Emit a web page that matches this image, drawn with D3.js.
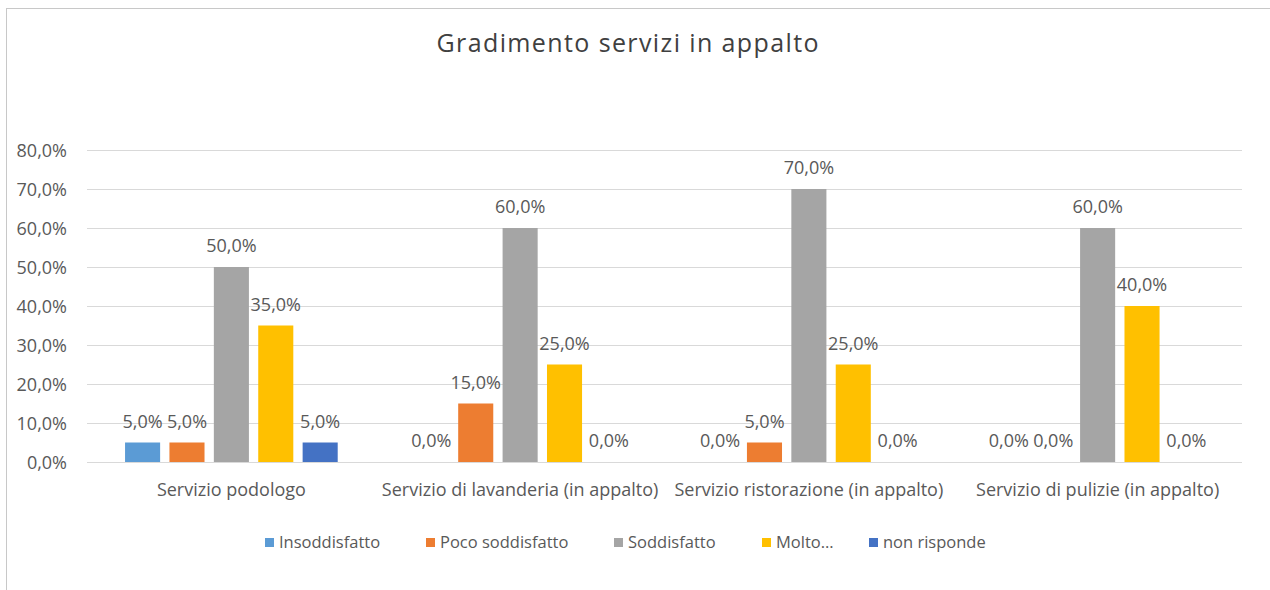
<!DOCTYPE html>
<html>
<head>
<meta charset="utf-8">
<script src="https://cdn.jsdelivr.net/npm/d3@7"></script>
<style>
  html, body { margin: 0; padding: 0; background: #fff; }
  svg { display: block; font-family: "Open Sans", sans-serif; }
</style>
</head>
<body>
<svg id="chart" width="1270" height="590"></svg>
<script>
const title = "Gradimento servizi in appalto";
const categories = ["Servizio podologo", "Servizio di lavanderia (in appalto)", "Servizio ristorazione (in appalto)", "Servizio di pulizie (in appalto)"];
const seriesNames = ["Insoddisfatto", "Poco soddisfatto", "Soddisfatto", "Molto soddisfatto", "non risponde"];
const legendLabels = ["Insoddisfatto", "Poco soddisfatto", "Soddisfatto", "Molto…", "non risponde"];
const insoddisfatto = [0.05, 0.00, 0.00, 0.00];
const pocoSoddisfatto = [0.05, 0.15, 0.05, 0.00];
const soddisfatto = [0.50, 0.60, 0.70, 0.60];
const moltoSoddisfatto = [0.35, 0.25, 0.25, 0.40];
const nonRisponde = [0.05, 0.00, 0.00, 0.00];
const yTicks = [0, 0.1, 0.2, 0.3, 0.4, 0.5, 0.6, 0.7, 0.8];

const seriesValues = [insoddisfatto, pocoSoddisfatto, soddisfatto, moltoSoddisfatto, nonRisponde];
const colors = ["#5B9BD5", "#ED7D31", "#A5A5A5", "#FFC000", "#4472C4"];
const textColor = "#595959";
const fmt = v => (v * 100).toFixed(1).replace(".", ",") + "%";

const svg = d3.select("#chart");

// chart border (top & left visible)
svg.append("rect").attr("x", 6.5).attr("y", 8.5).attr("width", 1300).attr("height", 600)
  .attr("fill", "none").attr("stroke", "#C8C8C8").attr("stroke-width", 1);

const plot = { left: 87, right: 1242, top: 150, bottom: 462 };

const x0 = d3.scaleBand().domain(categories).range([plot.left, plot.right]).padding(0);
const x1 = d3.scaleBand().domain(seriesNames).range([0, x0.bandwidth()]).paddingInner(0.21).paddingOuter(0.857);
const y = d3.scaleLinear().domain([0, 0.8]).range([plot.bottom, plot.top]);

// title
svg.append("text").attr("x", 627.5).attr("y", 52).attr("text-anchor", "middle")
  .attr("font-size", 25).attr("fill", "#404040")
  .attr("textLength", 382).attr("lengthAdjust", "spacing")
  .text(title);

// grid + y labels
const yAxis = d3.axisLeft(y).tickValues(yTicks).tickFormat(fmt)
  .tickSize(-(plot.right - plot.left)).tickPadding(20);
const gy = svg.append("g").attr("transform", `translate(${plot.left},0)`).call(yAxis);
gy.select(".domain").remove();
gy.selectAll(".tick line").attr("stroke", "#D9D9D9").attr("stroke-width", 1);
gy.selectAll(".tick text").attr("font-size", 18).attr("fill", textColor)
  .attr("font-family", "Open Sans, sans-serif").attr("x", -20).attr("dy", "0.35em");

// bars
const data = [];
categories.forEach((c, ci) => {
  seriesNames.forEach((s, si) => {
    data.push({ cat: c, ser: s, si, v: seriesValues[si][ci] });
  });
});

const bars = svg.append("g");
bars.selectAll("rect").data(data).join("rect")
  .attr("x", d => x0(d.cat) + x1(d.ser))
  .attr("y", d => y(d.v))
  .attr("width", x1.bandwidth())
  .attr("height", d => y(0) - y(d.v))
  .attr("fill", d => colors[d.si]);

// data labels
svg.append("g").selectAll("text").data(data).join("text")
  .attr("x", d => x0(d.cat) + x1(d.ser) + x1.bandwidth() / 2)
  .attr("y", d => y(d.v) - 15)
  .attr("text-anchor", "middle")
  .attr("font-size", 18).attr("fill", textColor)
  .text(d => fmt(d.v));

// x axis categories
const xAxis = d3.axisBottom(x0).tickSize(0).tickPadding(21);
const gx = svg.append("g").attr("transform", `translate(0,${plot.bottom})`).call(xAxis);
gx.select(".domain").remove();
gx.selectAll(".tick text").attr("font-size", 18).attr("fill", textColor)
  .attr("font-family", "Open Sans, sans-serif");

// legend
const legendX = [265, 426, 614, 762, 869];
const lg = svg.append("g").selectAll("g").data(legendLabels).join("g")
  .attr("transform", (d, i) => `translate(${legendX[i]},538)`);
lg.append("rect").attr("width", 9).attr("height", 9).attr("fill", (d, i) => colors[i]);
lg.append("text").attr("x", 14).attr("y", 10).attr("font-size", 16.5).attr("fill", textColor).text(d => d);
</script>
</body>
</html>
